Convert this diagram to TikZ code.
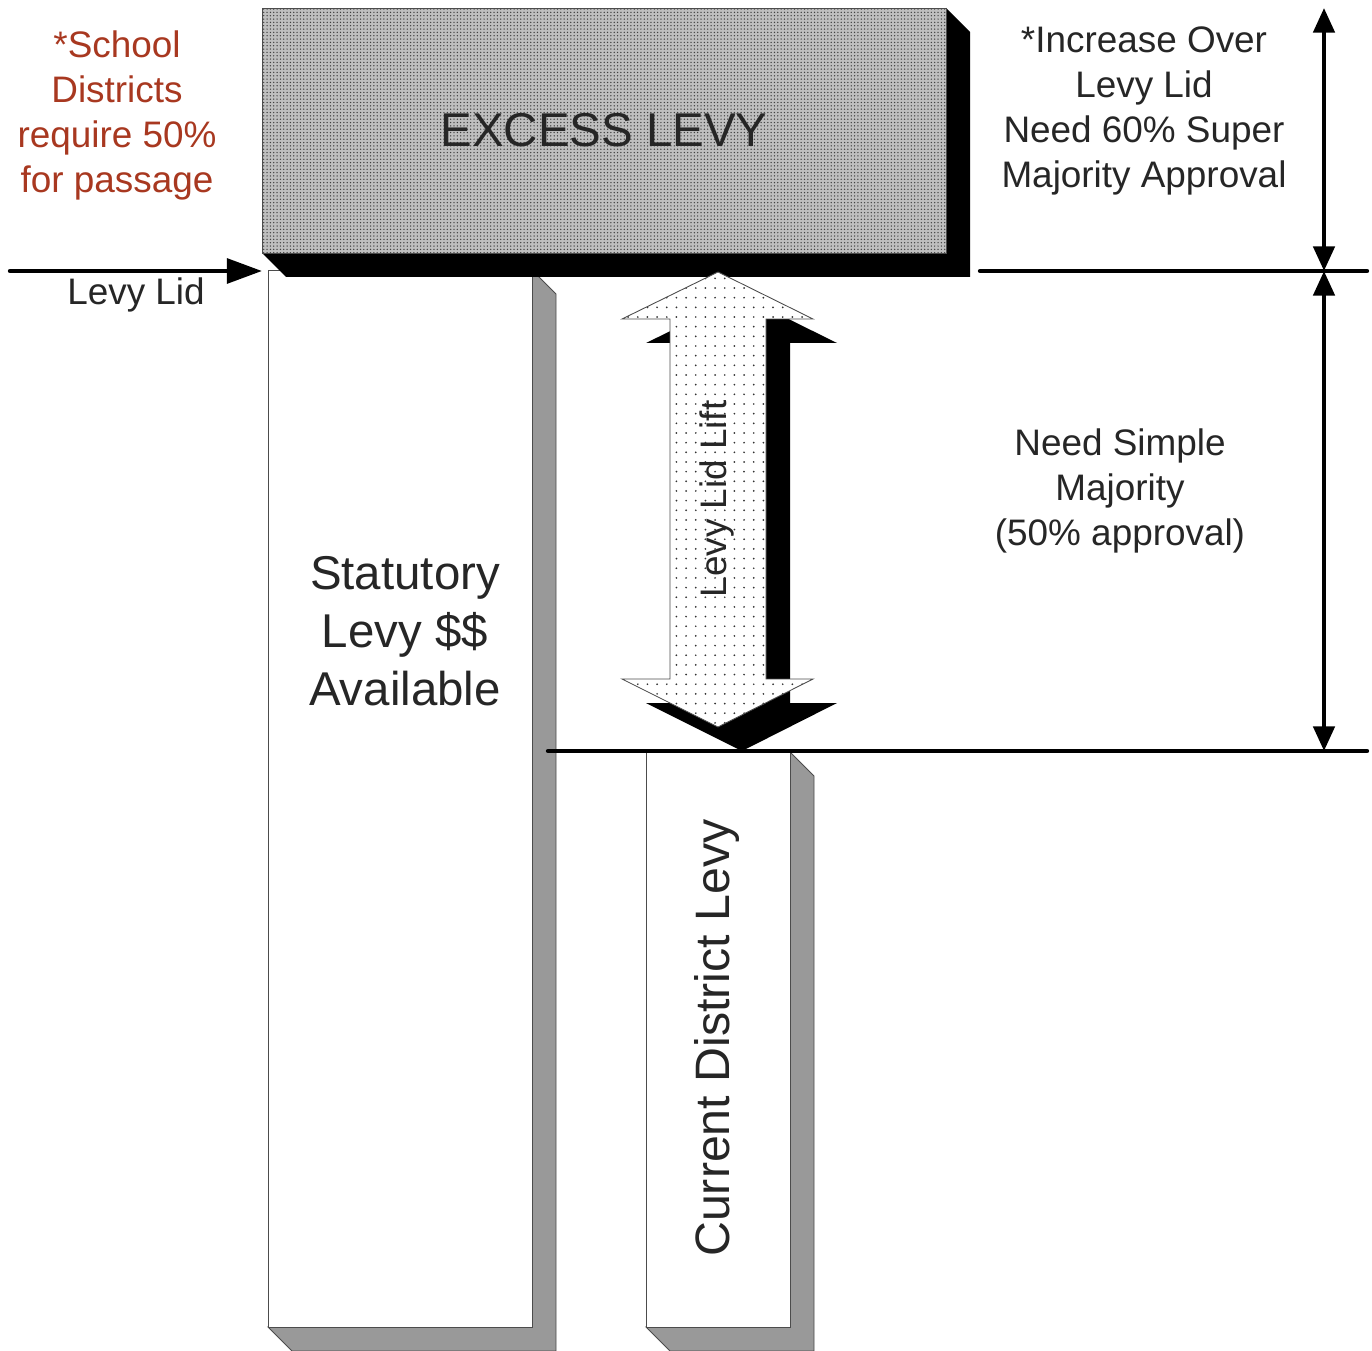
\documentclass[tikz,border=0pt]{standalone}
\usepackage{fontspec}
\setmainfont{Liberation Sans}
\usetikzlibrary{arrows.meta, patterns.meta}

\definecolor{schoolred}{RGB}{168,56,32}
\definecolor{sidegray}{RGB}{153,153,153}

\tikzset{
    face/.style={fill=white, draw=black!70, line width=0.5pt},
    side/.style={fill=sidegray, draw=black!70, line width=0.5pt},
    shadow/.style={fill=black},
    levyline/.style={line width=2.5pt, line cap=round},
    dimarrow/.style={line width=2.5pt, {Triangle[length=14pt, width=12pt]}-{Triangle[length=14pt, width=12pt]}},
    note/.style={font=\fontsize{21}{25.6}\selectfont, align=center, text=black!85},
}

\begin{document}
\begin{tikzpicture}[x=0.02cm, y=-0.02cm]
        \useasboundingbox (0,0) rectangle (1372,1351);

        % statutory levy bar
        \draw[side] (532,270) -- (556,294) -- (556,1351) -- (292,1351) -- (268,1327) -- (532,1327) -- cycle;
        \draw[face] (268,270) rectangle (532,1327);
        \node[font=\fontsize{27}{33}\selectfont, align=center, text=black!85] (statutory) at (405,631) {Statutory\\Levy \$\$\\Available};

        % current district levy bar
        \draw[side] (790,752) -- (814,776) -- (814,1351) -- (670,1351) -- (646,1327) -- (790,1327) -- cycle;
        \draw[face] (646,752) rectangle (790,1327);
        \node[font=\fontsize{27.5}{32}\selectfont, rotate=90, text=black!85] (current) at (717,1038) {Current District Levy};

        % excess levy block
        \fill[shadow] (946,8) -- (970,32) -- (970,277) -- (286,277) -- (262,253) -- (946,253) -- cycle;
        \fill[gray!50] (262,8) rectangle (946,253);
        \fill[pattern={Dots[distance=1.9pt, radius=0.42pt]}, pattern color=black!75] (262,8) rectangle (946,253);
        \draw[black!70, line width=0.5pt] (262,8) rectangle (946,253);
        \node[font=\fontsize{27}{32}\selectfont, text=black!85] (excess) at (604,130) {EXCESS LEVY};

        % levy lid lift arrow
        \fill[shadow, shift={(24,24)}] (718,272) -- (813,319) -- (766,319) -- (766,679) -- (813,679) -- (718,727)
            -- (622,679) -- (670,679) -- (670,319) -- (622,319) -- cycle;
        \fill[white] (718,272) -- (813,319) -- (766,319) -- (766,679) -- (813,679) -- (718,727)
            -- (622,679) -- (670,679) -- (670,319) -- (622,319) -- cycle;
        \fill[pattern={Dots[distance=5.5pt, radius=0.55pt]}, pattern color=black!80] (718,272) -- (813,319) -- (766,319) -- (766,679) -- (813,679) -- (718,727)
            -- (622,679) -- (670,679) -- (670,319) -- (622,319) -- cycle;
        \draw[black!70, line width=0.5pt] (718,272) -- (813,319) -- (766,319) -- (766,679) -- (813,679) -- (718,727)
            -- (622,679) -- (670,679) -- (670,319) -- (622,319) -- cycle;
        \node[font=\fontsize{21}{25}\selectfont, rotate=90, text=black!85] (lift) at (717,499) {Levy Lid Lift};

        % lines and arrows
        \coordinate (lidstart) at (10,271);
        \coordinate (lidend) at (262,271);
        \coordinate (toplineL) at (980,271);
        \coordinate (toplineR) at (1367,271);
        \coordinate (baselineL) at (548,751);
        \coordinate (baselineR) at (1367,751);
        \coordinate (dimtop) at (1324,8);
        \coordinate (dimmid) at (1324,271);
        \coordinate (dimbot) at (1324,751);

        \draw[levyline, -{Triangle[length=20pt, width=14pt]}] (lidstart) -- (lidend);
        \draw[levyline] (toplineL) -- (toplineR);
        \draw[levyline] (baselineL) -- (baselineR);
        \draw[dimarrow] (dimtop) -- (dimmid);
        \draw[dimarrow] (dimmid) -- (dimbot);

        % labels
        \node[note] (lidlabel) at (136,295) {Levy Lid};
        \node[note, text=schoolred] (school) at (117,115) {*School\\Districts\\require 50\%\\for passage};
        \node[note] (super) at (1144,111) {*Increase Over\\Levy Lid\\Need 60\% Super\\Majority Approval};
        \node[note] (simple) at (1120,491) {Need Simple\\Majority\\(50\% approval)};

    \end{tikzpicture}
\end{document}
